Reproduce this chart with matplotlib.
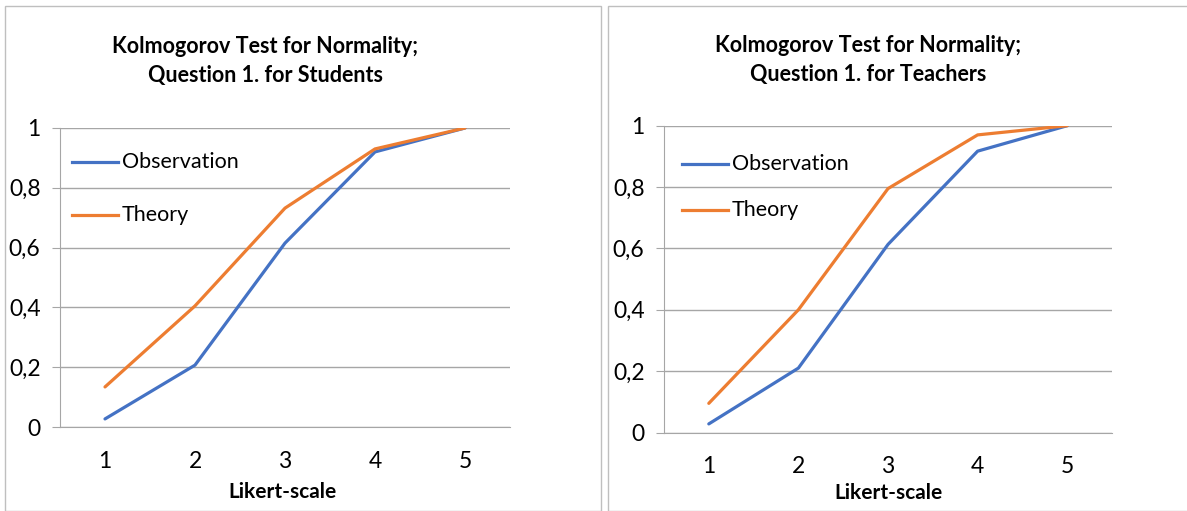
import matplotlib
matplotlib.use('Agg')
import matplotlib.pyplot as plt
from matplotlib.patches import Rectangle
from matplotlib.ticker import FuncFormatter

# data
likert = [1, 2, 3, 4, 5]
students_obs = [0.027, 0.207, 0.615, 0.92, 1.0]
students_theory = [0.134, 0.405, 0.732, 0.93, 1.0]
teachers_obs = [0.028, 0.21, 0.613, 0.917, 1.0]
teachers_theory = [0.095, 0.40, 0.795, 0.97, 1.0]
y_ticks = [0, 0.2, 0.4, 0.6, 0.8, 1.0]

titles = ['Kolmogorov Test for Normality;\nQuestion 1. for Students',
          'Kolmogorov Test for Normality;\nQuestion 1. for Teachers']

blue = '#4472C4'
orange = '#ED7D31'
grid_col = '#A6A6A6'

plt.rcParams['font.family'] = ['Lato', 'DejaVu Sans']

fig = plt.figure(figsize=(11.87, 5.11), dpi=100)
W, H = 1187, 511

# chart frames
fig.patches.append(Rectangle((5 / W, 0), 596 / W, 1 - 6 / H, transform=fig.transFigure,
                             fill=False, edgecolor='#BFBFBF', lw=1))
fig.patches.append(Rectangle((608 / W, 0), 580 / W, 1 - 6 / H, transform=fig.transFigure,
                             fill=False, edgecolor='#BFBFBF', lw=1))

panels = [
    dict(rect=[60 / W, 1 - 427 / H, 450 / W, 299 / H], obs=students_obs, th=students_theory,
         title_x=265, title_y=61, leg=(72, 162, 215), xl=(283, 492)),
    dict(rect=[664 / W, 1 - 432.5 / H, 448 / W, 306.8 / H], obs=teachers_obs, th=teachers_theory,
         title_x=868, title_y=60, leg=(682, 164, 210), xl=(888, 493)),
]


def fmt(v, pos):
    s = ('%g' % v)
    return s.replace('.', ',')


for p, title in zip(panels, titles):
    ax = fig.add_axes(p['rect'])
    ax.plot(likert, p['obs'], color=blue, lw=2.3, solid_capstyle='round')
    ax.plot(likert, p['th'], color=orange, lw=2.3, solid_capstyle='round')
    ax.set_xlim(0.5, 5.5)
    ax.set_ylim(0, 1)
    ax.set_yticks(y_ticks)
    ax.yaxis.set_major_formatter(FuncFormatter(fmt))
    ax.set_xticks(likert)
    ax.grid(axis='y', color=grid_col, lw=1)
    ax.set_axisbelow(True)
    for s in ['top', 'right']:
        ax.spines[s].set_visible(False)
    ax.spines['left'].set_color(grid_col)
    ax.spines['bottom'].set_color(grid_col)
    ax.tick_params(axis='y', length=6, color=grid_col, labelsize=16.5, pad=8)
    ax.tick_params(axis='x', length=0, labelsize=16.5, pad=17)

    fig.text(p['title_x'] / W, 1 - p['title_y'] / H, title, ha='center', va='center',
             fontsize=15.5, fontweight='bold', linespacing=1.5)
    fig.text(p['xl'][0] / W, 1 - p['xl'][1] / H, 'Likert-scale', ha='center', va='center',
             fontsize=15, fontweight='bold')

    # legend drawn as in the reference: line sample then label
    lx, ly1, ly2 = p['leg']
    for yy, col, lab in [(ly1, blue, 'Observation'), (ly2, orange, 'Theory')]:
        fig.add_artist(plt.Line2D([lx / W, (lx + 46) / W], [1 - yy / H, 1 - yy / H],
                                  transform=fig.transFigure, color=col, lw=2.3))
        fig.text((lx + 50) / W, 1 - yy / H, lab, ha='left', va='center', fontsize=15.5)

fig.savefig('out.png', dpi=100)
